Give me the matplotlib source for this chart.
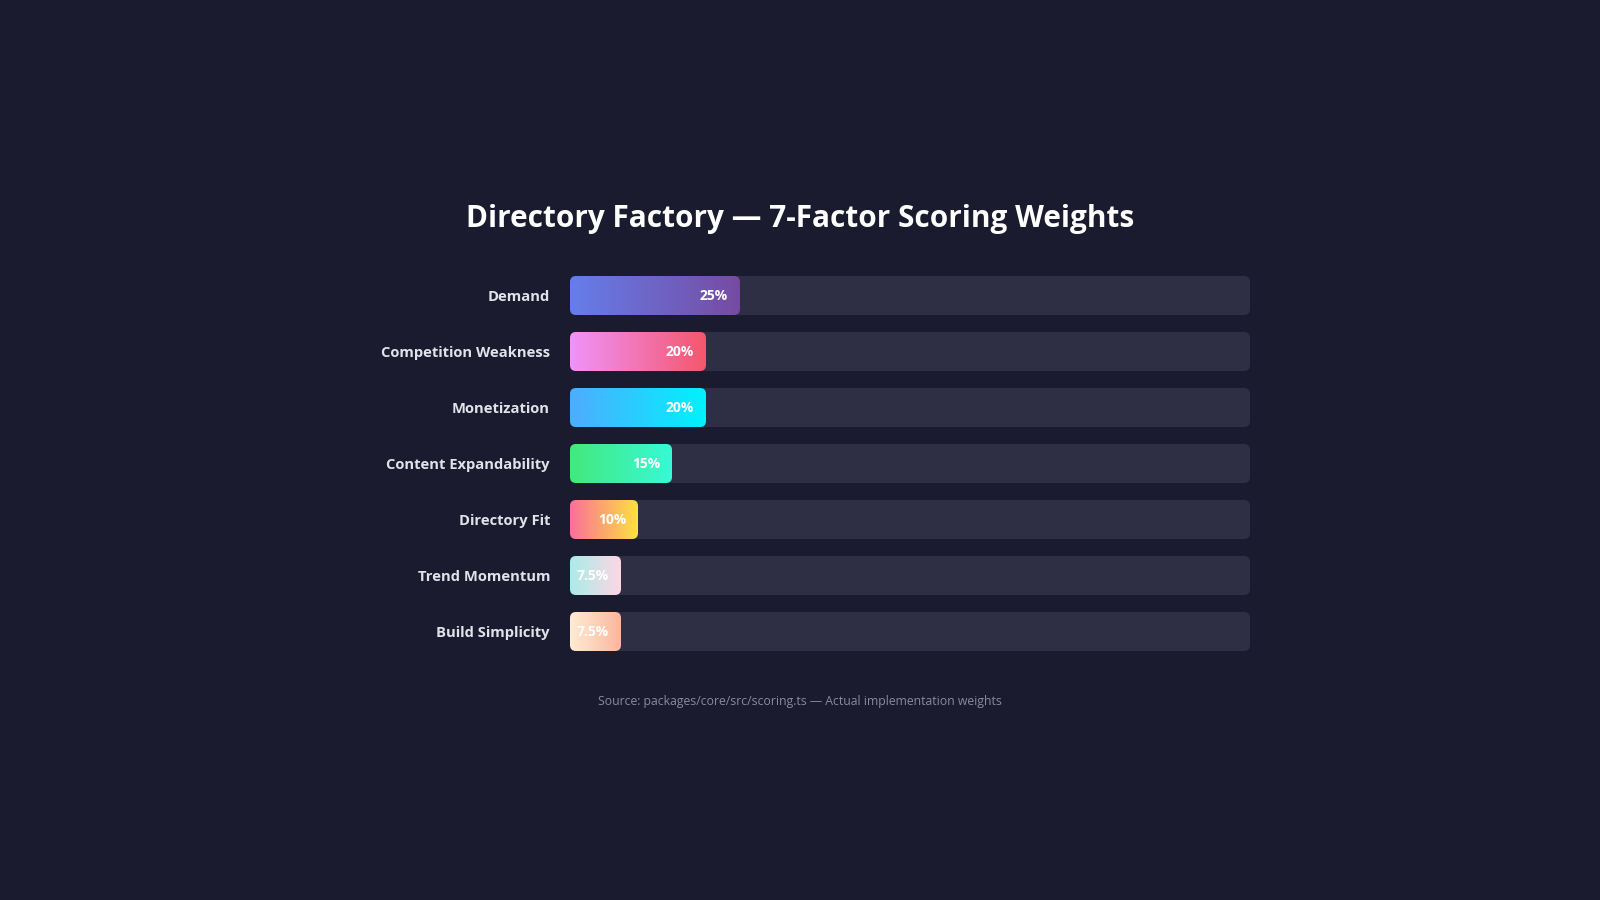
import numpy as np
import matplotlib
matplotlib.use("Agg")
import matplotlib.pyplot as plt
from matplotlib.patches import FancyBboxPatch
from matplotlib.colors import LinearSegmentedColormap

# ── Data ──────────────────────────────────────────────────────
factors = ["Demand", "Competition Weakness", "Monetization",
           "Content Expandability", "Directory Fit", "Trend Momentum",
           "Build Simplicity"]
weights = [25, 20, 20, 15, 10, 7.5, 7.5]
value_labels = ["25%", "20%", "20%", "15%", "10%", "7.5%", "7.5%"]
gradients = [("#667eea", "#764ba2"), ("#f093fb", "#f5576c"),
             ("#4facfe", "#00f2fe"), ("#43e97b", "#38f9d7"),
             ("#fa709a", "#fee140"), ("#a8edea", "#fed6e3"),
             ("#ffecd2", "#fcb69f")]

title = "Directory Factory \u2014 7-Factor Scoring Weights"
source = "Source: packages/core/src/scoring.ts \u2014 Actual implementation weights"

# ── Style ─────────────────────────────────────────────────────
BG = "#1a1b2e"
TRACK = "#2e2e45"
FONT = ["Open Sans", "DejaVu Sans"]
plt.rcParams["font.family"] = FONT

W, H = 1600, 900
fig = plt.figure(figsize=(16, 9), dpi=100, facecolor=BG)

# track area in pixels
x0, x1 = 570, 1250
pitch = 56
first_center = 295.5
top = first_center - pitch / 2
height = pitch * len(factors)
ax = fig.add_axes([x0 / W, 1 - (top + height) / H, (x1 - x0) / W, height / H])
ax.set_facecolor(BG)
for s in ax.spines.values():
    s.set_visible(False)
ax.set_xticks([])

bar_h = 39 / pitch
px_x = (x1 - x0) / 100          # pixels per x unit
px_y = pitch                    # pixels per y unit
radius = 6 / px_x
aspect = px_x / px_y

for i, (w, (c1, c2)) in enumerate(zip(weights, gradients)):
    y = i - bar_h / 2
    track = FancyBboxPatch((0, y), 100, bar_h,
                           boxstyle=f"round,pad=0,rounding_size={radius}",
                           mutation_aspect=aspect, fc=TRACK, ec="none", zorder=1)
    ax.add_patch(track)
    clip = FancyBboxPatch((0, y), w, bar_h,
                          boxstyle=f"round,pad=0,rounding_size={radius}",
                          mutation_aspect=aspect, fc="none", ec="none", zorder=2)
    ax.add_patch(clip)
    cmap = LinearSegmentedColormap.from_list(f"g{i}", [c1, c2])
    grad = np.linspace(0, 1, 256).reshape(1, -1)
    im = ax.imshow(grad, cmap=cmap, aspect="auto", extent=(0, w, y + bar_h, y),
                   zorder=2, interpolation="bilinear")
    im.set_clip_path(clip)
    ax.text(w - 12 / px_x, i, value_labels[i], ha="right", va="center",
            color="white", fontsize=10, fontweight="bold", zorder=3)

ax.set_xlim(0, 100)
ax.set_ylim(len(factors) - 0.5, -0.5)
ax.set_yticks(range(len(factors)))
ax.set_yticklabels(factors, fontsize=10.6, fontweight="bold", color="#e2e2ea")
ax.tick_params(axis="y", length=0, pad=14.4)

fig.text(0.5, 1 - 219 / H, title, ha="center", va="center",
         color="white", fontsize=21.4, fontweight="bold")
fig.text(0.5, 1 - 701 / H, source, ha="center", va="center",
         color="#8a8a9a", fontsize=8.8)

fig.savefig("out.png", dpi=100, facecolor=BG)
